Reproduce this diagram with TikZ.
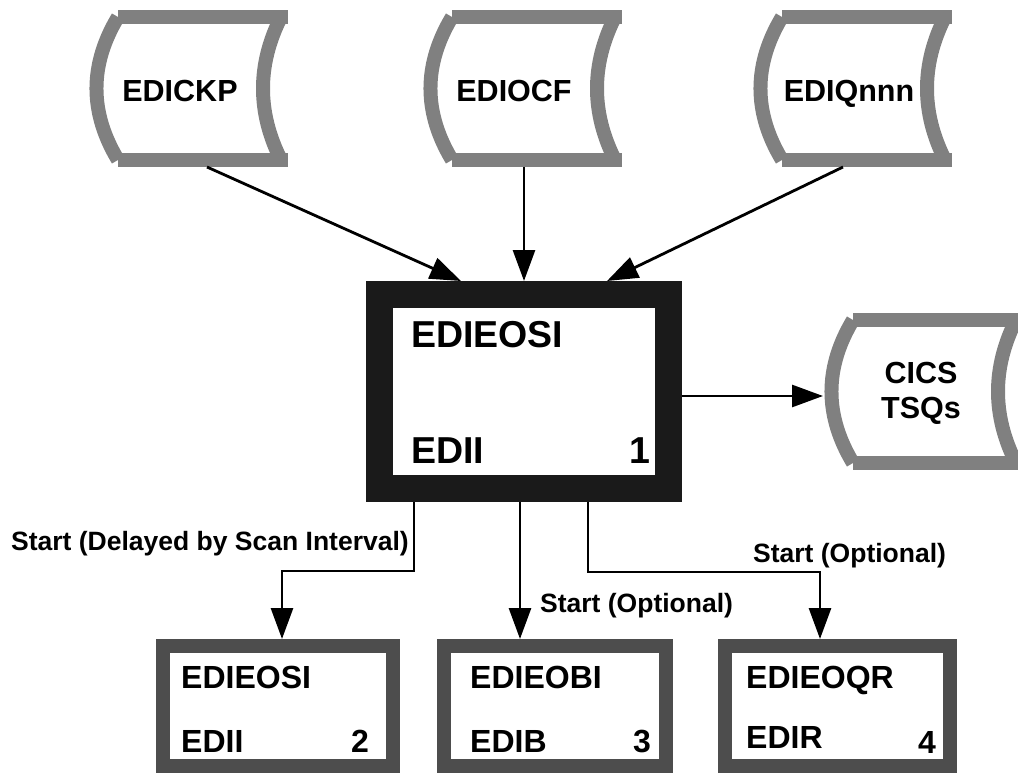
\documentclass[tikz,border=0pt]{standalone}
\usepackage{fontspec}
\setmainfont{Liberation Sans}
\usetikzlibrary{arrows.meta,calc}
\definecolor{storegray}{HTML}{808080}
\definecolor{mainborder}{HTML}{1A1A1A}
\definecolor{smallborder}{HTML}{4D4D4D}
\tikzset{
  storeline/.style={draw=storegray, line width=14pt, line cap=butt},
  conn/.style={draw=black, line width=2.8pt, -{Triangle[length=31pt,width=22pt]}},
  mainbox/.style={draw=mainborder, line width=27pt, minimum width=289pt, minimum height=194pt, inner sep=0pt, fill=white},
  smallbox/.style={draw=smallborder, line width=14pt, minimum height=120pt, inner sep=0pt, fill=white},
  bigtxt/.style={inner sep=0pt, font=\fontsize{37.5}{42}\selectfont\bfseries},
  smalltxt/.style={inner sep=0pt, font=\fontsize{32}{36}\selectfont\bfseries},
  storetxt/.style={inner sep=0pt, font=\fontsize{30.5}{35}\selectfont\bfseries},
  labeltxt/.style={inner sep=0pt, font=\fontsize{26.5}{30}\selectfont\bfseries},
  storage/.pic={
    \draw[storeline] (0,0) -- (170,0);
    \draw[storeline] (0,143) -- (170,143);
    \draw[storeline] (0,0) .. controls (-28.7,47.7) and (-28.7,95.3) .. (0,143);
    \draw[storeline] (163,0) .. controls (139,47.7) and (139,95.3) .. (163,143);
  }
}
\begin{document}
\begin{tikzpicture}[x=1pt,y=-1pt]
\useasboundingbox (0,0) rectangle (1018,773);
\clip (0,0) rectangle (1018,773);
% storage shapes
\pic at (118,17) {storage};
\pic at (452,17) {storage};
\pic at (782,17) {storage};
\pic at (853,320) {storage};
\node[storetxt, anchor=base] (ckp) at (180,102) {EDICKP};
\node[storetxt, anchor=base] (ocf) at (514,102) {EDIOCF};
\node[storetxt, anchor=base] (qnnn) at (849,102) {EDIQnnn};
\node[storetxt, anchor=base] (cics) at (921,383) {CICS};
\node[storetxt, anchor=base] (tsqs) at (921,418) {TSQs};
% main box
\node[mainbox] (m) at (524,391.5) {};
\node[bigtxt, anchor=base west] (mt1) at (411,347) {EDIEOSI};
\node[bigtxt, anchor=base west] (mt2) at (411,463) {EDII};
\node[bigtxt, anchor=base east] (mt3) at (651,463) {1};
% small boxes
\node[smallbox, minimum width=230pt] (b2) at (278,706) {};
\node[smallbox, minimum width=222pt] (b3) at (555,706) {};
\node[smallbox, minimum width=225pt] (b4) at (837.5,706) {};
\node[smalltxt, anchor=base west] (b2a) at (181,688) {EDIEOSI};
\node[smalltxt, anchor=base west] (b2b) at (181,752) {EDII};
\node[smalltxt, anchor=base east] (b2c) at (369,752) {2};
\node[smalltxt, anchor=base west] (b3a) at (470,688) {EDIEOBI};
\node[smalltxt, anchor=base west] (b3b) at (470,752) {EDIB};
\node[smalltxt, anchor=base east] (b3c) at (651,752) {3};
\node[smalltxt, anchor=base west] (b4a) at (746,688) {EDIEOQR};
\node[smalltxt, anchor=base west] (b4b) at (746,748) {EDIR};
\node[smalltxt, anchor=base east] (b4c) at (936,753) {4};
% connector points
\coordinate (ckpo) at (207,167);
\coordinate (ocfo) at (524,167);
\coordinate (qnnno) at (843,167);
\coordinate (cicsin) at (823,396);
\coordinate (s1) at ($(m.south west)+(48,0)$);
\coordinate (s2) at ($(m.south)+(-4,0)$);
\coordinate (s3) at ($(m.south)+(64,0)$);
\coordinate (j1) at (282,571);
\coordinate (j3) at (820,572);
% connectors
\draw[conn] (ckpo) -- ($(m.north west)+(95,0)$);
\draw[conn] (ocfo) -- (m.north);
\draw[conn] (qnnno) -- ($(m.north west)+(241,0)$);
\draw[conn] ($(m.east)+(0,4.5)$) -- (cicsin);
\draw[conn] (s1) |- (j1) -- (j1 |- b2.north);
\draw[conn] (s2) -- (s2 |- b3.north);
\draw[conn] (s3) |- (j3) -- (j3 |- b4.north);
% labels
\node[labeltxt, anchor=base east] (l1) at (409,550) {Start (Delayed by Scan Interval)};
\node[labeltxt, anchor=base west] (l2) at (540,612) {Start (Optional)};
\node[labeltxt, anchor=base west] (l3) at (753,562) {Start (Optional)};
\end{tikzpicture}
\end{document}
